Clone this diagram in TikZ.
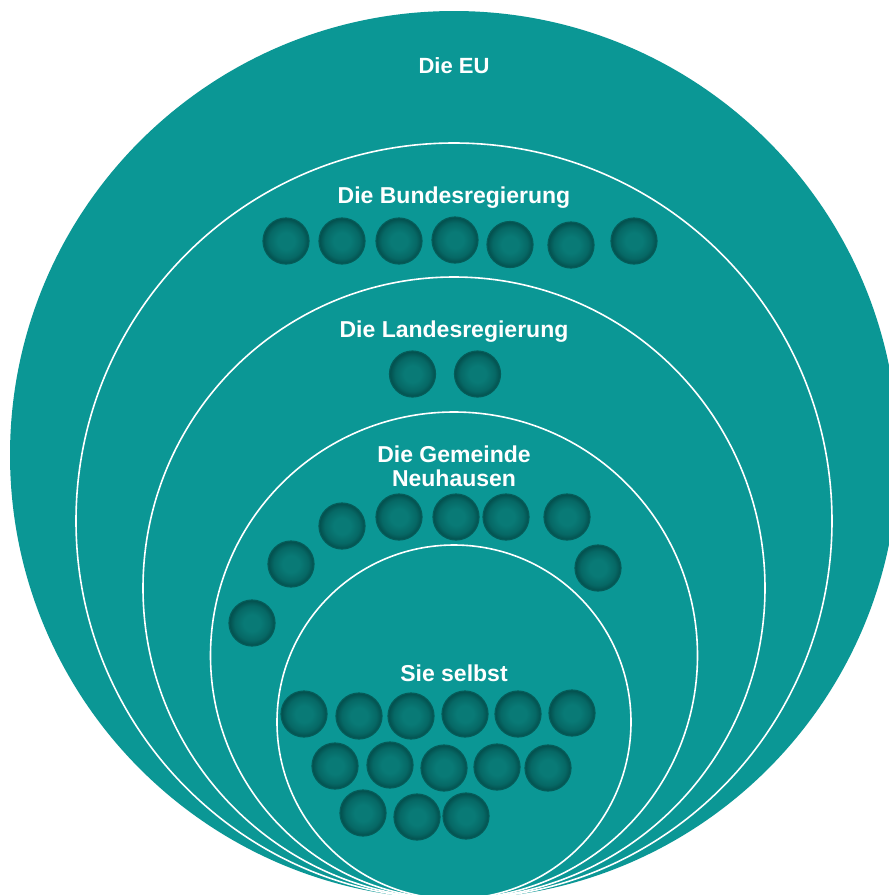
\documentclass[tikz,border=0pt]{standalone}
\usepackage{fontspec}
\setmainfont{Liberation Sans}
\definecolor{tealbg}{RGB}{11,151,149}
\definecolor{bcA}{RGB}{9,122,118}
\definecolor{bcB}{RGB}{6,104,101}
\definecolor{bcC}{RGB}{3,78,76}
\definecolor{ballring}{RGB}{5,92,89}
\pgfdeclareradialshading{ballshade}{\pgfpoint{0bp}{0bp}}{color(0bp)=(bcA); color(9bp)=(bcA); color(19bp)=(bcB); color(25bp)=(bcC); color(50bp)=(bcC)}
\tikzset{
  zone/.style={circle, fill=tealbg, draw=white, line width=1.6pt, inner sep=0pt, outer sep=0pt},
  ball/.style={circle, minimum size=46pt, inner sep=0pt, shading=ballshade, draw=ballring, line width=1.2pt},
  lbl/.style={text=white, font=\bfseries\fontsize{23}{24}\selectfont, inner sep=0pt, align=center}
}
\begin{document}
\begin{tikzpicture}[x=1pt,y=-1pt]
\useasboundingbox (0,0) rectangle (889,895);
\clip (0,0) rectangle (889,895);
% nested zones
\node[zone, draw=none, minimum size=888pt] (eu) at (454,455) {};
\node[zone, minimum size=756pt] (bund) at (454,521) {};
\node[zone, minimum size=622pt] (land) at (454,588) {};
\node[zone, minimum size=487pt] (gem) at (454,655.5) {};
\node[zone, minimum size=354pt] (sie) at (454,722) {};
% labels
\node[lbl, anchor=base, font=\bfseries\fontsize{22}{24}\selectfont] (teu) at (454,73) {Die EU};
\node[lbl, anchor=base] (tbund) at (454,203) {Die Bundesregierung};
\node[lbl, anchor=base] (tland) at (454,337) {Die Landesregierung};
\node[lbl, anchor=center] (tgem) at (454,466.5) {Die Gemeinde\\Neuhausen};
\node[lbl, anchor=base] (tsie) at (454,681) {Sie selbst};
% Bundesregierung balls
\node[ball] (b1) at (286,241) {};
\node[ball] (b2) at (342,241) {};
\node[ball] (b3) at (399,241) {};
\node[ball] (b4) at (455,240) {};
\node[ball] (b5) at (510,244.5) {};
\node[ball] (b6) at (571,245) {};
\node[ball] (b7) at (634,241) {};
% Landesregierung balls
\node[ball] (l1) at (412.5,374) {};
\node[ball] (l2) at (477.5,374) {};
% Gemeinde balls
\node[ball] (g1) at (252,623) {};
\node[ball] (g2) at (291,564) {};
\node[ball] (g3) at (342,526) {};
\node[ball] (g4) at (399,517) {};
\node[ball] (g5) at (456,517) {};
\node[ball] (g6) at (506,517) {};
\node[ball] (g7) at (567,517) {};
\node[ball] (g8) at (598,568) {};
% Sie selbst balls
\node[ball] (s1) at (304,714) {};
\node[ball] (s2) at (359,716) {};
\node[ball] (s3) at (411,716) {};
\node[ball] (s4) at (465,714) {};
\node[ball] (s5) at (518,714) {};
\node[ball] (s6) at (572,713) {};
\node[ball] (s7) at (335,766) {};
\node[ball] (s8) at (390,765) {};
\node[ball] (s9) at (444,768) {};
\node[ball] (s10) at (497,767) {};
\node[ball] (s11) at (548,768) {};
\node[ball] (s12) at (363,813) {};
\node[ball] (s13) at (417,817) {};
\node[ball] (s14) at (466,816) {};
\end{tikzpicture}
\end{document}
